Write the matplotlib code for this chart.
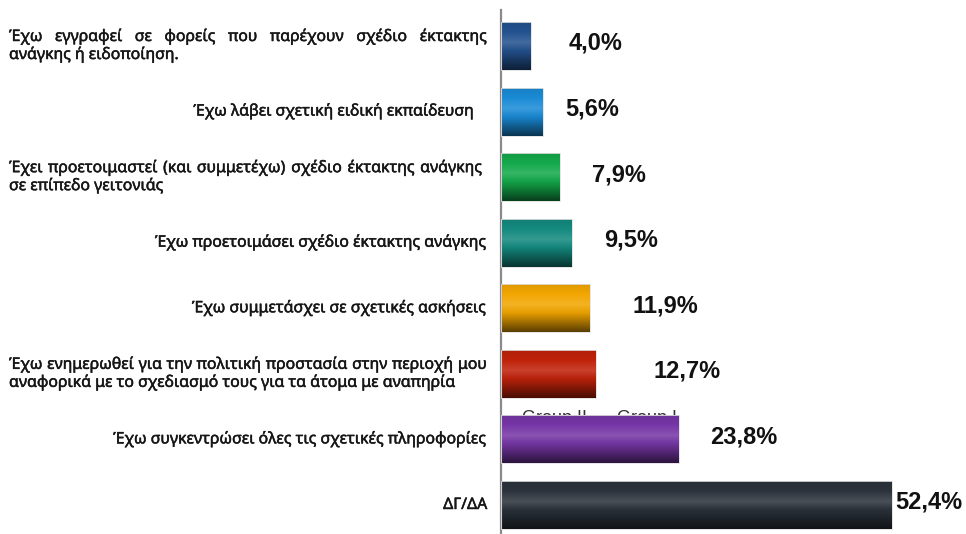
import numpy as np
import matplotlib.pyplot as plt
import matplotlib.colors as mcolors
import matplotlib.patheffects as pe
from matplotlib.transforms import blended_transform_factory, offset_copy

# Δεδομένα (%)
labels = [
    'Έχω εγγραφεί σε φορείς που παρέχουν σχέδιο έκτακτης\nανάγκης ή ειδοποίηση.',
    'Έχω λάβει σχετική ειδική εκπαίδευση   ',
    'Έχει προετοιμαστεί (και συμμετέχω)  σχέδιο έκτακτης ανάγκης\nσε επίπεδο γειτονιάς',
    'Έχω προετοιμάσει σχέδιο έκτακτης ανάγκης',
    'Έχω συμμετάσχει σε σχετικές ασκήσεις',
    'Έχω ενημερωθεί για την πολιτική προστασία στην περιοχή μου\nαναφορικά με το σχεδιασμό τους για τα άτομα με αναπηρία',
    'Έχω συγκεντρώσει όλες τις σχετικές πληροφορίες',
    'ΔΓ/ΔΑ',
]
values = [4.0, 5.6, 7.9, 9.5, 11.9, 12.7, 23.8, 52.4]
value_text = ['4,0%', '5,6%', '7,9%', '9,5%', '11,9%', '12,7%', '23,8%', '52,4%']
bar_colors = ['#23528f', '#1a8bd6', '#14a94b', '#148a7f',
              '#f2a600', '#c0220a', '#7636a6', '#2c333c']
# απόσταση ετικέτας από το τέλος της μπάρας
label_gap = [5.1, 3.0, 4.3, 4.3, 5.7, 7.8, 4.2, 0.5]

W, H = 966, 534
px_per_unit = (893 - 502) / 52.4
row_px = 65.57

fig = plt.figure(figsize=(W / 100, H / 100), dpi=100)
ax = fig.add_axes([501 / W, 0, (W - 501) / W, 524 / H])
ax.set_xlim(0, (W - 501) / px_per_unit)
top = -36 / row_px
ax.set_ylim(top + 524 / row_px, top)

y = np.arange(len(values))
bars = ax.barh(y, values, height=0.73, color='none', edgecolor='#e0e0e0',
               linewidth=0.6, zorder=3)


def shade(c, t):
    # t>0 φωτεινότερο, t<0 σκουρότερο
    rgb = np.array(mcolors.to_rgb(c))
    if t > 0:
        return rgb + (1 - rgb) * t
    return rgb * (1 + t)


# κυλινδρική σκίαση κάθε μπάρας
for b, c in zip(bars, bar_colors):
    cmap = mcolors.LinearSegmentedColormap.from_list('g', [
        (0.0, shade(c, -0.08)), (0.2, shade(c, 0.0)), (0.42, shade(c, 0.14)),
        (0.6, shade(c, -0.05)), (1.0, shade(c, -0.62))])
    grad = np.linspace(0, 1, 64)[:, None]
    x0, y0, w, h = b.get_x(), b.get_y(), b.get_width(), b.get_height()
    im = ax.imshow(grad, cmap=cmap, aspect='auto', origin='upper',
                   extent=[x0, x0 + w, y0 + h, y0], zorder=2,
                   interpolation='bilinear')
    im.set_clip_path(b)

ax.set_xlim(0, (W - 501) / px_per_unit)
ax.set_ylim(top + 524 / row_px, top)

for s in ['top', 'right', 'bottom']:
    ax.spines[s].set_visible(False)
ax.spines['left'].set_color('#8a8a8a')
ax.spines['left'].set_linewidth(1.6)
ax.set_xticks([])
ax.set_yticks([])

# ετικέτες τιμών
for i, (v, t) in enumerate(zip(values, value_text)):
    ax.text(v + label_gap[i], i - 0.04, t, fontsize=17, fontweight='bold',
            family='Liberation Sans', color='#111111', va='center', ha='left')

# υπόμνημα που έμεινε πίσω από τη μωβ μπάρα
ax.text(21 / px_per_unit, 5.75, 'Group II', fontsize=13, family='Liberation Sans',
        color='#333333', va='baseline', zorder=1)
ax.text(116 / px_per_unit, 5.75, 'Group I', fontsize=13, family='Liberation Sans',
        color='#333333', va='baseline', zorder=1)

# ετικέτες κατηγοριών
fig.canvas.draw()
renderer = fig.canvas.get_renderer()
lab_font = dict(family='Noto Sans', fontsize=11.4, color='#161616',
                path_effects=[pe.withStroke(linewidth=0.35, foreground='#161616')])
ytrans = blended_transform_factory(fig.transFigure, ax.transData)


def line_at(i, dy_px):
    return offset_copy(ytrans, fig=fig, y=-dy_px, units='dots')


def justify(words, i, dy_px, x0, x1):
    tr = line_at(i, dy_px)
    txts = [fig.text(0, i, wd, transform=tr, va='baseline', **lab_font) for wd in words]
    widths = [t.get_window_extent(renderer).width for t in txts]
    gap = (x1 - x0 - sum(widths)) / (len(words) - 1)
    x = x0
    for t, wd in zip(txts, widths):
        t.set_x(x / W)
        x += wd + gap


for i, lab in enumerate(labels):
    lines = lab.split('\n')
    if len(lines) == 1:
        fig.text(487 / W, i, lab, transform=line_at(i, 4), ha='right',
                 va='baseline', **lab_font)
    else:
        right = 482 if i == 2 else 487
        justify(lines[0].split(), i, -5, 9, right)
        fig.text(9 / W, i, lines[1], transform=line_at(i, 13), ha='left',
                 va='baseline', **lab_font)

fig.savefig('out.png', dpi=100)
